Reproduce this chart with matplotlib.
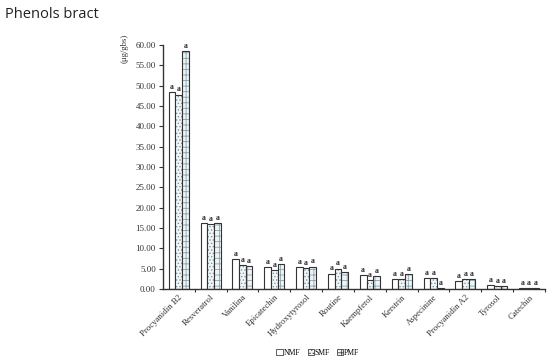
import matplotlib
matplotlib.use('Agg')
import matplotlib.pyplot as plt
import numpy as np

compounds = ['Procyanidin B2', 'Resveratrol', 'Vanilina', 'Epicatechin',
             'Hydroxytyrosol', 'Routine', 'Kaempferol', 'Kerstrin',
             'Aspecinine', 'Procyanidin A2', 'Tyrosol', 'Catechin']
nmf = [48.3, 16.2, 7.4, 5.3, 5.3, 3.8, 3.4, 2.5, 2.7, 2.0, 1.0, 0.3]
smf = [47.8, 16.0, 5.9, 4.6, 5.2, 5.0, 2.2, 2.5, 2.7, 2.4, 0.7, 0.3]
pmf = [58.5, 16.2, 5.7, 6.2, 5.5, 4.2, 3.2, 3.6, 0.2, 2.4, 0.8, 0.3]
series = ['NMF', 'SMF', 'PMF']
yticks = np.arange(0, 60.01, 5)

plt.rcParams['hatch.linewidth'] = 0.6
serif = 'Liberation Serif'

fig = plt.figure(figsize=(5.5, 3.59), dpi=100)
ax = fig.add_axes([0.296, 0.195, 0.695, 0.68])

x = np.arange(len(compounds))
w = 0.21
# (face, hatch, hatch colour)
styles = [('white', '::', '#d3dde0'),
          ('#f2f6f7', '.....', '#7d98a2'),
          ('#eef3f5', '+++', '#8aa4ad')]
handles = []
for i, (vals, name) in enumerate(zip([nmf, smf, pmf], series)):
    fc, hatch, hc = styles[i]
    pos = x + (i - 1) * w
    # hatch layer, then outline on top
    ax.bar(pos, vals, w, color=fc, hatch=hatch, edgecolor=hc, linewidth=0)
    ax.bar(pos, vals, w, fill=False, edgecolor='#333333', linewidth=0.8)
    for xi, v in zip(pos, vals):
        ax.text(xi, v + 0.3, 'a', ha='center', va='bottom', fontsize=5.5,
                fontweight='bold', family=serif, color='#222222')
    handles.append(plt.Rectangle((0, 0), 1, 1, facecolor=fc, hatch=hatch,
                                 edgecolor='#444444', linewidth=0.6,
                                 label=name))

ax.set_xlim(-0.5, len(compounds) - 0.5)
ax.set_ylim(0, 60)
ax.set_yticks(yticks)
ax.set_yticklabels(['%.2f' % t for t in yticks], family=serif, fontsize=6.5,
                   color='#333333')
ax.set_xticks(x)
ax.set_xticklabels(compounds, rotation=45, ha='right', rotation_mode='anchor',
                   family=serif, fontsize=6.3, color='#333333')
ax.tick_params(axis='x', length=0, pad=3)
ax.set_xticks(np.arange(0.5, len(compounds), 1), minor=True)
ax.tick_params(axis='x', which='minor', length=2, width=0.8, color='#333333',
               direction='out')
ax.tick_params(axis='y', length=3, width=0.8, color='#333333', pad=2)
for s in ['top', 'right']:
    ax.spines[s].set_visible(False)
for s in ['left', 'bottom']:
    ax.spines[s].set_color('#333333')
    ax.spines[s].set_linewidth(1.0)

fig.text(125 / 550, 1 - 48 / 359, '(μg/gbs)', rotation=90, ha='center',
         va='center', family=serif, fontsize=6.3, color='#333333')
fig.text(5 / 550, 1 - 14 / 359, 'Phenols bract', ha='left', va='center',
         family='Open Sans', fontsize=10.5, color='#222222')

fig.legend(handles=handles, loc='center',
           bbox_to_anchor=(318 / 550, 1 - 353 / 359), ncol=3,
           frameon=False, prop={'family': serif, 'size': 5.5},
           handlelength=0.8, handleheight=0.8, handletextpad=0.1,
           columnspacing=1.0, borderpad=0)

fig.savefig('out.png', dpi=100)
